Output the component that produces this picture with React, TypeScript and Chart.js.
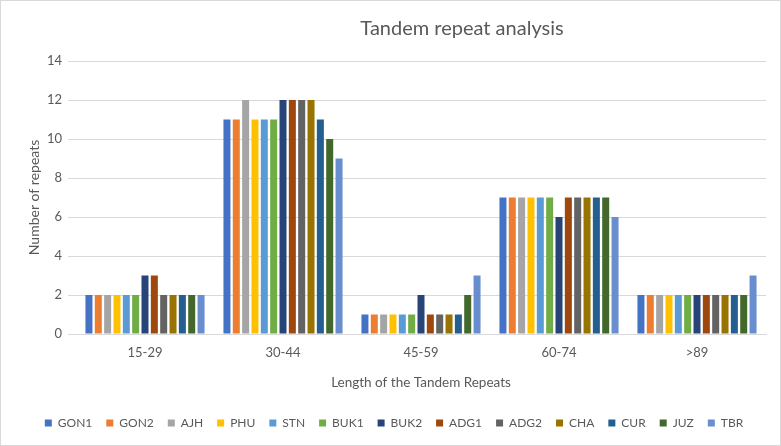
import React, { useEffect, useRef } from "react";
import { Chart, registerables } from "chart.js";
Chart.register(...registerables);

const categories = ["15-29", "30-44", "45-59", "60-74", ">89"];
const seriesNames = ["GON1", "GON2", "AJH", "PHU", "STN", "BUK1", "BUK2", "ADG1", "ADG2", "CHA", "CUR", "JUZ", "TBR"];
const GON1 = [2, 11, 1, 7, 2];
const GON2 = [2, 11, 1, 7, 2];
const AJH = [2, 12, 1, 7, 2];
const PHU = [2, 11, 1, 7, 2];
const STN = [2, 11, 1, 7, 2];
const BUK1 = [2, 11, 1, 7, 2];
const BUK2 = [3, 12, 2, 6, 2];
const ADG1 = [3, 12, 1, 7, 2];
const ADG2 = [2, 12, 1, 7, 2];
const CHA = [2, 12, 1, 7, 2];
const CUR = [2, 11, 1, 7, 2];
const JUZ = [2, 10, 2, 7, 2];
const TBR = [2, 9, 3, 6, 3];
const seriesValues = [GON1, GON2, AJH, PHU, STN, BUK1, BUK2, ADG1, ADG2, CHA, CUR, JUZ, TBR];
const colors = ["#4472C4", "#ED7D31", "#A5A5A5", "#FFC000", "#5B9BD5", "#70AD47", "#264478", "#9E480E", "#636363", "#997300", "#255E91", "#43682B", "#698ED0"];
const yTicks = [0, 2, 4, 6, 8, 10, 12, 14];

const FONT = "Lato, 'Open Sans', sans-serif";

const titlePlugin = {
  id: "customTitle",
  afterDraw(chart: any) {
    const ctx = chart.ctx;
    ctx.save();
    ctx.font = `20px ${FONT}`;
    ctx.fillStyle = "#595959";
    ctx.textAlign = "center";
    ctx.textBaseline = "middle";
    ctx.fillText("Tandem repeat analysis", 461, 28);
    ctx.restore();
  },
};

export default function App() {
  const ref = useRef<HTMLCanvasElement>(null);
  useEffect(() => {
    const chart = new Chart(ref.current!, {
      type: "bar",
      data: {
        labels: categories,
        datasets: seriesNames.map((n, i) => ({
          label: n,
          data: seriesValues[i],
          backgroundColor: colors[i],
          borderWidth: 0,
          barPercentage: 0.75,
          categoryPercentage: 0.88,
        })),
      },
      options: {
        animation: false,
        responsive: false,
        layout: { padding: { left: 21, right: 14, top: 60, bottom: 6 } },
        plugins: {
          legend: {
            position: "bottom",
            labels: {
              boxWidth: 7,
              boxHeight: 7,
              padding: 14,
              color: "#595959",
              font: { family: FONT, size: 12 },
            },
          },
          tooltip: { enabled: false },
        },
        scales: {
          x: {
            afterFit(scale: any) {
              scale.height = 69;
            },
            grid: { display: false },
            border: { display: true, color: "#d9d9d9" },
            ticks: { color: "#595959", font: { family: FONT, size: 13 }, padding: 3 },
            title: { display: true, text: "Length of the Tandem Repeats", color: "#595959", font: { family: FONT, size: 13.5 }, padding: { top: 4, bottom: 12 } },
          },
          y: {
            min: 0,
            max: 14,
            afterBuildTicks(scale: any) {
              scale.ticks = yTicks.map((v) => ({ value: v }));
            },
            afterFit(scale: any) {
              scale.width = 54;
            },
            grid: { color: "#d9d9d9" },
            border: { display: false },
            ticks: { color: "#595959", font: { family: FONT, size: 13 }, padding: 6 },
            title: { display: true, text: "Number of repeats", color: "#595959", font: { family: FONT, size: 14 } },
          },
        },
      },
      plugins: [titlePlugin],
    } as any);
    return () => chart.destroy();
  }, []);
  return (
    <div style={{ position: "fixed", left: 0, top: 0, width: 781, height: 446, background: "#fff", boxSizing: "border-box", border: "1px solid #d9d9d9" }}>
      <canvas ref={ref} width={779} height={444} />
    </div>
  );
}
